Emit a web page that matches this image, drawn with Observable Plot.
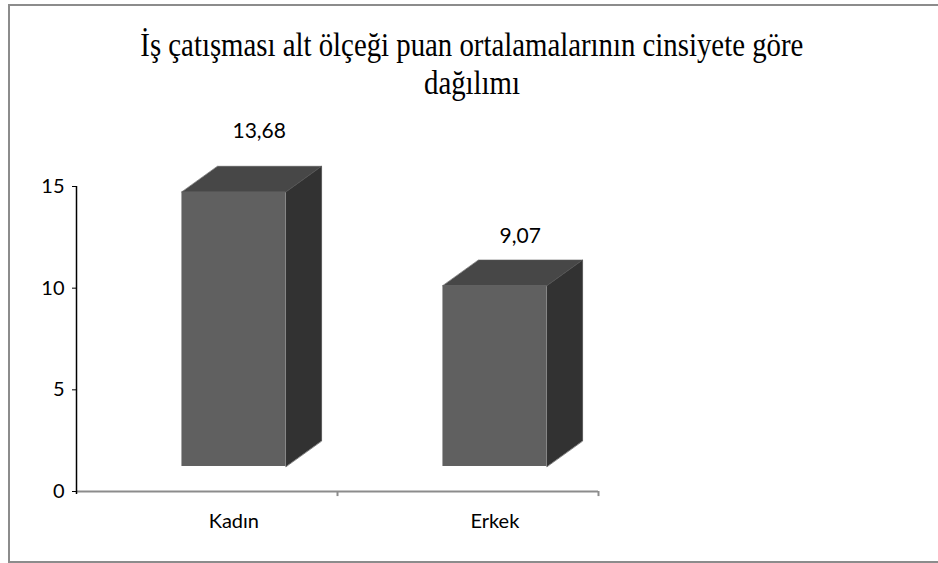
<!DOCTYPE html>
<html>
<head>
<meta charset="utf-8">
<script src="https://cdn.jsdelivr.net/npm/d3@7"></script>
<script src="https://cdn.jsdelivr.net/npm/@observablehq/plot@0.6"></script>
<style>
  html, body { margin: 0; padding: 0; background: #fff; overflow: hidden; }
  #wrap { position: relative; width: 938px; height: 563px; overflow: hidden; }
  #chart { position: absolute; left: 0; top: 0; }
  #frame { position: absolute; left: 8px; top: 4px; width: 1000px; height: 559px; box-sizing: border-box; border: 2px solid #8c8c8c; pointer-events: none; }
  .tline { position: absolute; left: 0; width: 944px; text-align: center; font-family: "Liberation Serif", "Times New Roman", serif; font-size: 33px; line-height: 1; color: #000; white-space: nowrap; }
  .tline span { display: inline-block; transform-origin: center; }
</style>
</head>
<body>
<div id="wrap">
  <div id="chart"></div>
  <div id="frame"></div>
  <div class="tline" id="t1" style="top:29px"><span>İş çatışması alt ölçeği puan ortalamalarının cinsiyete göre</span></div>
  <div class="tline" id="t2" style="top:67px"><span>dağılımı</span></div>
</div>
<script>
// ---- data ----
const categories = ["Kadın", "Erkek"];
const values = [13.68, 9.07];
const valueLabels = ["13,68", "9,07"];
const yTicks = [0, 5, 10, 15];
const xTicks = [1, 2];

// ---- 3D geometry (in scale units) ----
const OFF = 0.103, HW = 0.199, DX = 0.137, DY = 1.264;
const BASE_BOTTOM = 1.23, BASE_TOP = 1.05;

const bars = categories.map((c, i) => ({c, i, v: values[i], label: valueLabels[i]}));
const topFaces = [], sideFaces = [];
for (const b of bars) {
  const xl = b.i + 0.5 + OFF - HW, xr = b.i + 0.5 + OFF + HW, t = b.v + BASE_TOP;
  topFaces.push({c: b.c, x: xl, y: t}, {c: b.c, x: xr, y: t}, {c: b.c, x: xr + DX, y: t + DY}, {c: b.c, x: xl + DX, y: t + DY});
  sideFaces.push({c: b.c, x: xr, y: BASE_BOTTOM}, {c: b.c, x: xr, y: t}, {c: b.c, x: xr + DX, y: t + DY}, {c: b.c, x: xr + DX, y: BASE_BOTTOM + DY});
}

const chart = Plot.plot({
  width: 938,
  height: 563,
  marginLeft: 76,
  marginRight: 340,
  marginTop: 186,
  marginBottom: 72,
  x: {domain: [0, 2], axis: null},
  y: {domain: [0, 15], axis: null},
  style: {fontFamily: "Lato, 'Open Sans', sans-serif", background: "transparent", overflow: "visible", color: "#000"},
  marks: [
    Plot.ruleY([0], {stroke: "#8c8c8c", strokeWidth: 2}),
    Plot.ruleX(xTicks, {y1: 0, y2: -0.25, stroke: "#8c8c8c", strokeWidth: 2}),
    Plot.ruleX([0], {y1: -0.15, y2: 15, stroke: "#000", strokeWidth: 1.5}),
    Plot.axisY({ticks: yTicks, tickSize: 4, tickPadding: 8, fontSize: 20, stroke: "#000", label: null}),
    Plot.line(sideFaces, {x: "x", y: "y", z: "c", curve: "linear-closed", fill: "#323232", stroke: "#3a3a3a", strokeWidth: 0.6}),
    Plot.line(topFaces, {x: "x", y: "y", z: "c", curve: "linear-closed", fill: "#474747", stroke: "#555555", strokeWidth: 0.6}),
    Plot.rect(bars, {x1: d => d.i + 0.5 + OFF - HW, x2: d => d.i + 0.5 + OFF + HW, y1: BASE_BOTTOM, y2: d => d.v + BASE_TOP, fill: "#606060"}),
    Plot.text(bars, {x: d => d.i + 0.5 + 0.2, y: d => d.v * 1.12 + 2.05, text: "label", lineAnchor: "bottom", fontSize: 21}),
    Plot.text(bars, {x: d => d.i + 0.5 + OFF, y: 0, dy: 30, text: "c", fontSize: 20})
  ]
});
document.getElementById("chart").appendChild(chart);

// condense title to the reference width
const s1 = document.querySelector("#t1 span");
const s2 = document.querySelector("#t2 span");
const w = s1.getBoundingClientRect().width;
const k = 663 / w;
s1.style.transform = `scaleX(${k})`;
s2.style.transform = `scaleX(${k})`;
</script>
</body>
</html>
